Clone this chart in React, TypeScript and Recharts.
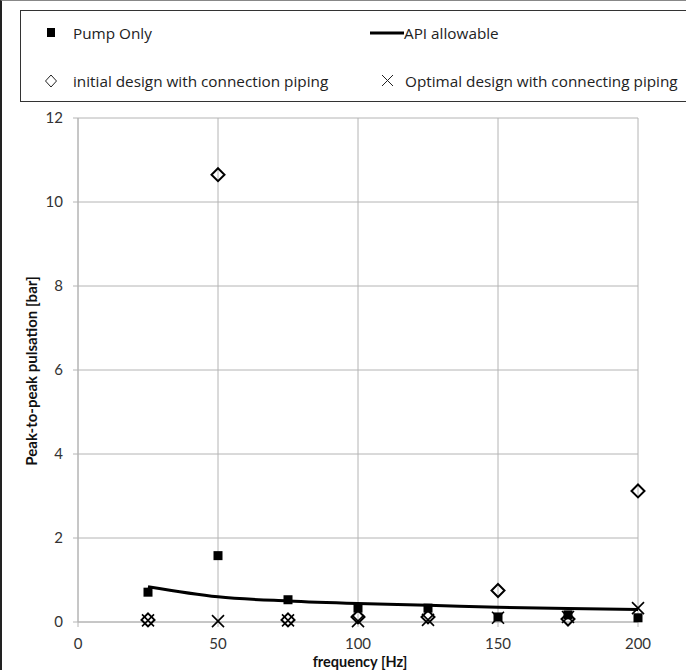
import React from "react";
import {
  ComposedChart,
  Line,
  Scatter,
  XAxis,
  YAxis,
  CartesianGrid,
} from "recharts";

const frequency = [25, 50, 75, 100, 125, 150, 175, 200];
const pumpOnly = [0.71, 1.58, 0.53, 0.33, 0.33, 0.12, 0.17, 0.1];
const apiAllowable = [0.84, 0.6, 0.5, 0.44, 0.4, 0.35, 0.32, 0.3];
const initialDesign = [0.05, 10.65, 0.05, 0.12, 0.12, 0.75, 0.07, 3.12];
const optimalDesign = [0.04, 0.02, 0.04, 0.02, 0.05, 0.1, 0.12, 0.33];

const xTicks = [0, 50, 100, 150, 200];
const yTicks = [0, 2, 4, 6, 8, 10, 12];

const data = frequency.map((f, i) => ({
  f,
  pump: pumpOnly[i],
  api: apiAllowable[i],
  initial: initialDesign[i],
  optimal: optimalDesign[i],
}));

const FONT = "Lato, 'Noto Sans', sans-serif";
const LEGEND_FONT = "'Open Sans', 'Noto Sans', sans-serif";
const GRID = "#b4b4b4";

const SquareDot = (p: any) => (
  <rect x={p.cx - 4.5} y={p.cy - 4.5} width={9} height={9} fill="#000" />
);

const DiamondDot = (p: any) => {
  const s = 6.5;
  return (
    <polygon
      points={`${p.cx},${p.cy - s} ${p.cx + s},${p.cy} ${p.cx},${p.cy + s} ${p.cx - s},${p.cy}`}
      fill="none"
      stroke="#000"
      strokeWidth={2}
    />
  );
};

const CrossDot = (p: any) => {
  const s = 6;
  return (
    <g stroke="#000" strokeWidth={1.6}>
      <line x1={p.cx - s} y1={p.cy - s} x2={p.cx + s} y2={p.cy + s} />
      <line x1={p.cx - s} y1={p.cy + s} x2={p.cx + s} y2={p.cy - s} />
    </g>
  );
};

function LegendItem({ icon, label, x, y }: { icon: React.ReactNode; label: string; x: number; y: number }) {
  return (
    <div
      style={{
        position: "absolute",
        left: x,
        top: y,
        display: "flex",
        alignItems: "center",
        height: 20,
        marginTop: -10,
        fontFamily: LEGEND_FONT,
        fontSize: 15.3,
        color: "#222",
        whiteSpace: "nowrap",
      }}
    >
      {icon}
      <span>{label}</span>
    </div>
  );
}

export default function App() {
  return (
    <div
      style={{
        position: "relative",
        width: 686,
        height: 670,
        overflow: "hidden",
        background: "#fff",
        boxSizing: "border-box",
        borderLeft: "2px solid #222",
        borderTop: "1px solid #888",
      }}
    >
      <style>{`body{margin:0}`}</style>
      {/* Legend box */}
      <div
        style={{
          position: "absolute",
          left: 18,
          top: 9,
          width: 700,
          height: 92,
          border: "1px solid #333",
          boxSizing: "border-box",
        }}
      />
      <LegendItem
        x={42}
        y={32}
        label="Pump Only"
        icon={
          <svg width={29} height={20}>
            <rect x={3} y={5} width={8} height={9} fill="#000" />
          </svg>
        }
      />
      <LegendItem
        x={368}
        y={32}
        label="API allowable"
        icon={
          <svg width={34} height={20}>
            <line x1={0} y1={10} x2={34} y2={10} stroke="#000" strokeWidth={3} />
          </svg>
        }
      />
      <LegendItem
        x={42}
        y={80}
        label="initial design with connection piping"
        icon={
          <svg width={29} height={20}>
            <polygon points="7,4 12.5,10 7,16 1.5,10" fill="none" stroke="#222" strokeWidth={1} />
          </svg>
        }
      />
      <LegendItem
        x={376}
        y={80}
        label="Optimal design with connecting piping"
        icon={
          <svg width={27} height={20}>
            <g stroke="#222" strokeWidth={1}>
              <line x1={4} y1={4} x2={15} y2={15} />
              <line x1={4} y1={15} x2={15} y2={4} />
            </g>
          </svg>
        }
      />

      <div style={{ position: "absolute", left: -2, top: -1 }}>
        <ComposedChart
          width={686}
          height={670}
          data={data}
          margin={{ top: 118, right: 48, bottom: 18, left: 28 }}
        >
          <CartesianGrid stroke={GRID} strokeWidth={1} />
          <XAxis
            type="number"
            dataKey="f"
            domain={[0, 200]}
            ticks={xTicks}
            height={30}
            tickSize={5}
            tickMargin={11}
            axisLine={{ stroke: GRID }}
            tickLine={{ stroke: GRID }}
            tick={{ fill: "#333", fontSize: 15, fontFamily: FONT }}
          />
          <YAxis
            type="number"
            domain={[0, 12]}
            ticks={yTicks}
            width={50}
            tickSize={5}
            tickMargin={10}
            axisLine={{ stroke: GRID }}
            tickLine={{ stroke: GRID }}
            tick={{ fill: "#333", fontSize: 15, fontFamily: FONT }}
          />
          <Line
            type="monotone"
            dataKey="api"
            stroke="#000"
            strokeWidth={3}
            dot={false}
            isAnimationActive={false}
          />
          <Scatter dataKey="pump" shape={SquareDot} isAnimationActive={false} />
          <Scatter dataKey="initial" shape={DiamondDot} isAnimationActive={false} />
          <Scatter dataKey="optimal" shape={CrossDot} isAnimationActive={false} />
        </ComposedChart>
      </div>

      <div
        style={{
          position: "absolute",
          left: 358,
          top: 660,
          transform: "translate(-50%, -50%)",
          fontFamily: FONT,
          fontWeight: "bold",
          fontSize: 14.5,
          color: "#111",
          whiteSpace: "nowrap",
        }}
      >
        frequency [Hz]
      </div>
      <div
        style={{
          position: "absolute",
          left: 29,
          top: 370,
          transform: "translate(-50%, -50%) rotate(-90deg)",
          fontFamily: FONT,
          fontWeight: "bold",
          fontSize: 15,
          color: "#111",
          whiteSpace: "nowrap",
        }}
      >
        Peak-to-peak pulsation [bar]
      </div>
    </div>
  );
}
